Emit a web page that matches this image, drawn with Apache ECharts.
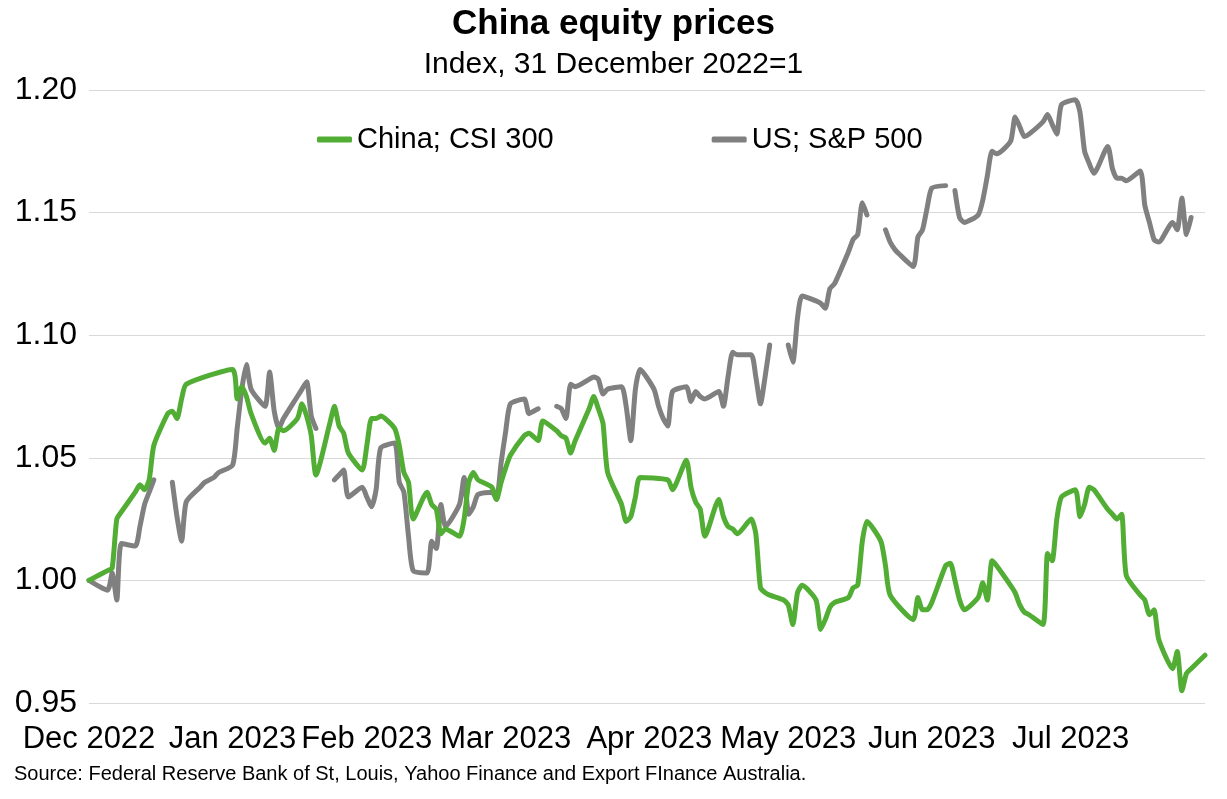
<!DOCTYPE html>
<html><head><meta charset="utf-8">
<script src="https://cdn.jsdelivr.net/npm/echarts@6/dist/echarts.min.js"></script>
<style>html,body{margin:0;padding:0;background:#fff}#c{width:1227px;height:799px}</style>
</head><body><div id="c"></div>
<script>
// Trading days (weekdays on which at least one market traded)
const dates = [
'2022-12-30','2023-01-03','2023-01-04','2023-01-05','2023-01-06','2023-01-09','2023-01-10','2023-01-11','2023-01-12','2023-01-13',
'2023-01-16','2023-01-17','2023-01-18','2023-01-19','2023-01-20','2023-01-23','2023-01-24','2023-01-25','2023-01-26','2023-01-27',
'2023-01-30','2023-01-31','2023-02-01','2023-02-02','2023-02-03','2023-02-06','2023-02-07','2023-02-08','2023-02-09','2023-02-10',
'2023-02-13','2023-02-14','2023-02-15','2023-02-16','2023-02-17','2023-02-20','2023-02-21','2023-02-22','2023-02-23','2023-02-24',
'2023-02-27','2023-02-28','2023-03-01','2023-03-02','2023-03-03','2023-03-06','2023-03-07','2023-03-08','2023-03-09','2023-03-10',
'2023-03-13','2023-03-14','2023-03-15','2023-03-16','2023-03-17','2023-03-20','2023-03-21','2023-03-22','2023-03-23','2023-03-24',
'2023-03-27','2023-03-28','2023-03-29','2023-03-30','2023-03-31','2023-04-03','2023-04-04','2023-04-05','2023-04-06','2023-04-07',
'2023-04-10','2023-04-11','2023-04-12','2023-04-13','2023-04-14','2023-04-17','2023-04-18','2023-04-19','2023-04-20','2023-04-21',
'2023-04-24','2023-04-25','2023-04-26','2023-04-27','2023-04-28','2023-05-01','2023-05-02','2023-05-03','2023-05-04','2023-05-05',
'2023-05-08','2023-05-09','2023-05-10','2023-05-11','2023-05-12','2023-05-15','2023-05-16','2023-05-17','2023-05-18','2023-05-19',
'2023-05-22','2023-05-23','2023-05-24','2023-05-25','2023-05-26','2023-05-29','2023-05-30','2023-05-31','2023-06-01','2023-06-02',
'2023-06-05','2023-06-06','2023-06-07','2023-06-08','2023-06-09','2023-06-12','2023-06-13','2023-06-14','2023-06-15','2023-06-16',
'2023-06-19','2023-06-20','2023-06-21','2023-06-22','2023-06-23','2023-06-26','2023-06-27','2023-06-28','2023-06-29','2023-06-30',
'2023-07-03','2023-07-04','2023-07-05','2023-07-06','2023-07-07','2023-07-10','2023-07-11','2023-07-12','2023-07-13','2023-07-14',
'2023-07-17','2023-07-18','2023-07-19','2023-07-20','2023-07-21','2023-07-24','2023-07-25','2023-07-26','2023-07-27','2023-07-28',
'2023-07-31','2023-08-01','2023-08-02','2023-08-03','2023-08-04','2023-08-07','2023-08-08','2023-08-09','2023-08-10','2023-08-11',
'2023-08-14','2023-08-15','2023-08-16','2023-08-17','2023-08-18','2023-08-21','2023-08-22','2023-08-23','2023-08-24','2023-08-25',
'2023-08-28'
];
// China; CSI 300 (null = market holiday, line joined across)
const china = [
1.000,1.004,1.005,1.025,1.028,1.036,1.039,1.037,1.041,1.055,
1.068,1.069,1.066,1.074,1.080,null,null,null,null,null,
1.086,1.074,1.079,1.075,1.068,1.056,1.058,1.053,1.062,1.061,
1.066,1.072,1.067,1.059,1.043,1.064,1.071,1.063,1.060,1.052,
1.045,1.055,1.066,1.066,1.067,1.062,1.055,1.044,1.040,1.025,
1.036,1.031,1.029,1.019,1.021,1.018,1.025,1.040,1.044,1.041,
1.038,1.033,1.040,1.046,1.051,1.059,1.060,null,1.057,1.065,
1.061,1.059,1.058,1.052,1.057,1.070,1.075,1.070,1.064,1.044,
1.031,1.024,1.026,1.034,1.042,null,null,null,1.041,1.037,
1.049,1.038,1.032,1.029,1.018,1.033,1.026,1.022,1.021,1.019,
1.025,1.019,0.997,0.995,0.994,0.992,0.990,0.982,0.995,0.998,
0.992,0.980,0.984,0.989,0.991,0.993,0.997,0.998,1.016,1.024,
1.016,1.006,0.994,null,null,0.984,0.993,0.988,0.988,0.991,
1.006,1.007,1.000,0.992,0.988,0.993,0.999,0.992,1.008,1.006,
0.998,0.995,0.990,0.987,0.986,0.982,1.011,1.008,1.025,1.034,
1.037,1.026,1.031,1.038,1.037,1.029,1.027,1.025,1.027,1.002,
0.994,0.992,0.986,0.988,0.976,0.964,0.971,0.955,0.962,0.964,
0.9695
];
// US; S&P 500 (null = market holiday, shown as a gap)
const us = [
1.000,0.996,1.003,0.992,1.015,1.014,1.022,1.031,1.036,1.041,
null,1.040,1.026,1.016,1.032,1.038,1.040,1.041,1.042,1.044,
1.047,1.062,1.078,1.088,1.078,1.071,1.085,1.069,1.062,1.066,
1.075,1.078,1.081,1.067,1.062,null,1.041,1.043,1.045,1.034,
1.038,1.034,1.030,1.037,1.054,1.056,1.040,1.036,1.018,1.004,
1.003,1.016,1.013,1.031,1.022,1.031,1.042,1.027,1.030,1.035,
1.036,1.033,1.048,1.061,1.072,1.074,1.068,1.069,1.070,null,
1.071,1.070,1.066,1.080,1.079,1.082,1.083,1.082,1.076,1.078,
1.079,1.071,1.057,1.078,1.086,1.078,1.071,1.066,1.063,1.077,
1.079,1.073,1.077,1.075,1.074,1.077,1.071,1.083,1.093,1.092,
1.092,1.083,1.072,1.083,1.096,null,1.096,1.089,1.107,1.116,
1.114,1.113,1.111,1.119,1.121,1.134,1.139,1.141,1.154,1.149,
null,1.143,1.138,1.135,1.133,1.128,1.140,1.143,1.152,1.160,
1.161,null,1.159,1.148,1.146,1.149,1.155,1.165,1.175,1.174,
1.179,1.189,1.185,1.181,1.182,1.187,1.190,1.186,1.182,1.194,
1.196,1.191,1.175,1.170,1.166,1.177,1.168,1.164,1.164,1.163,
1.167,1.153,1.146,1.139,1.138,1.146,1.143,1.156,1.141,1.148,
null
];
const seriesNames = ['China; CSI 300', 'US; S&P 500'];
const labelDates = ['2022-12-30','2023-01-30','2023-02-28','2023-03-30','2023-04-30','2023-05-30','2023-06-30','2023-07-30'];
const labelTexts = ['Dec 2022','Jan 2023','Feb 2023','Mar 2023','Apr 2023','May 2023','Jun 2023','Jul 2023'];
const axisStart = '2022-12-30';
const axisEnd = '2023-08-28';

const ts = s => Date.UTC(+s.slice(0,4), +s.slice(5,7) - 1, +s.slice(8,10));
const labelTs = labelDates.map(ts);
const FONT = '"Liberation Sans", Arial, sans-serif';

const chart = echarts.init(document.getElementById('c'), null, {renderer: 'canvas'});
chart.setOption({
  backgroundColor: '#ffffff',
  animation: false,
  textStyle: {fontFamily: FONT, color: '#000'},
  title: [
    {text: 'China equity prices', left: 'center', top: 2,
     textStyle: {fontFamily: FONT, fontSize: 35, fontWeight: 'bold', color: '#000'}},
    {text: 'Index, 31 December 2022=1', left: 'center', top: 45,
     textStyle: {fontFamily: FONT, fontSize: 30, fontWeight: 'normal', color: '#000'}}
  ],
  legend: {
    left: 312, top: 120, itemGap: 158, itemWidth: 35, itemHeight: 6,
    icon: 'roundRect',
    textStyle: {fontFamily: FONT, fontSize: 29, color: '#000'},
    data: seriesNames
  },
  grid: {left: 89, right: 22, top: 90, bottom: 96, containLabel: false},
  xAxis: {
    type: 'value', min: ts(axisStart), max: ts(axisEnd),
    axisLine: {show: false}, axisTick: {show: false}, splitLine: {show: false},
    axisLabel: {
      customValues: labelTs,
      margin: 21, fontSize: 31, fontFamily: FONT, color: '#000',
      formatter: v => { const i = labelTs.indexOf(v); return i >= 0 ? labelTexts[i] : ''; }
    }
  },
  yAxis: {
    type: 'value', min: 0.95, max: 1.20, interval: 0.05,
    axisLine: {show: false}, axisTick: {show: false},
    splitLine: {lineStyle: {color: '#d9d9d9', width: 1}},
    axisLabel: {margin: 12, fontSize: 32, fontFamily: FONT, color: '#000',
      formatter: v => v.toFixed(2)}
  },
  series: [
    {name: seriesNames[0], type: 'line', showSymbol: false, connectNulls: true, smooth: 0.2,
     data: dates.map((d, i) => [ts(d), china[i]]),
     color: '#52ad35', lineStyle: {width: 5, color: '#52ad35', cap: 'round', join: 'round'}, z: 3},
    {name: seriesNames[1], type: 'line', showSymbol: false, connectNulls: false, smooth: 0.2,
     data: dates.map((d, i) => [ts(d), us[i]]),
     color: '#808080', lineStyle: {width: 5, color: '#808080', cap: 'round', join: 'round'}, z: 2}
  ],
  graphic: [
    {type: 'text', left: 14, top: 764,
     style: {text: 'Source: Federal Reserve Bank of St, Louis, Yahoo Finance and Export FInance Australia.',
       font: '20px "Liberation Sans", Arial, sans-serif', fill: '#000'}}
  ]
});
</script>
</body></html>
